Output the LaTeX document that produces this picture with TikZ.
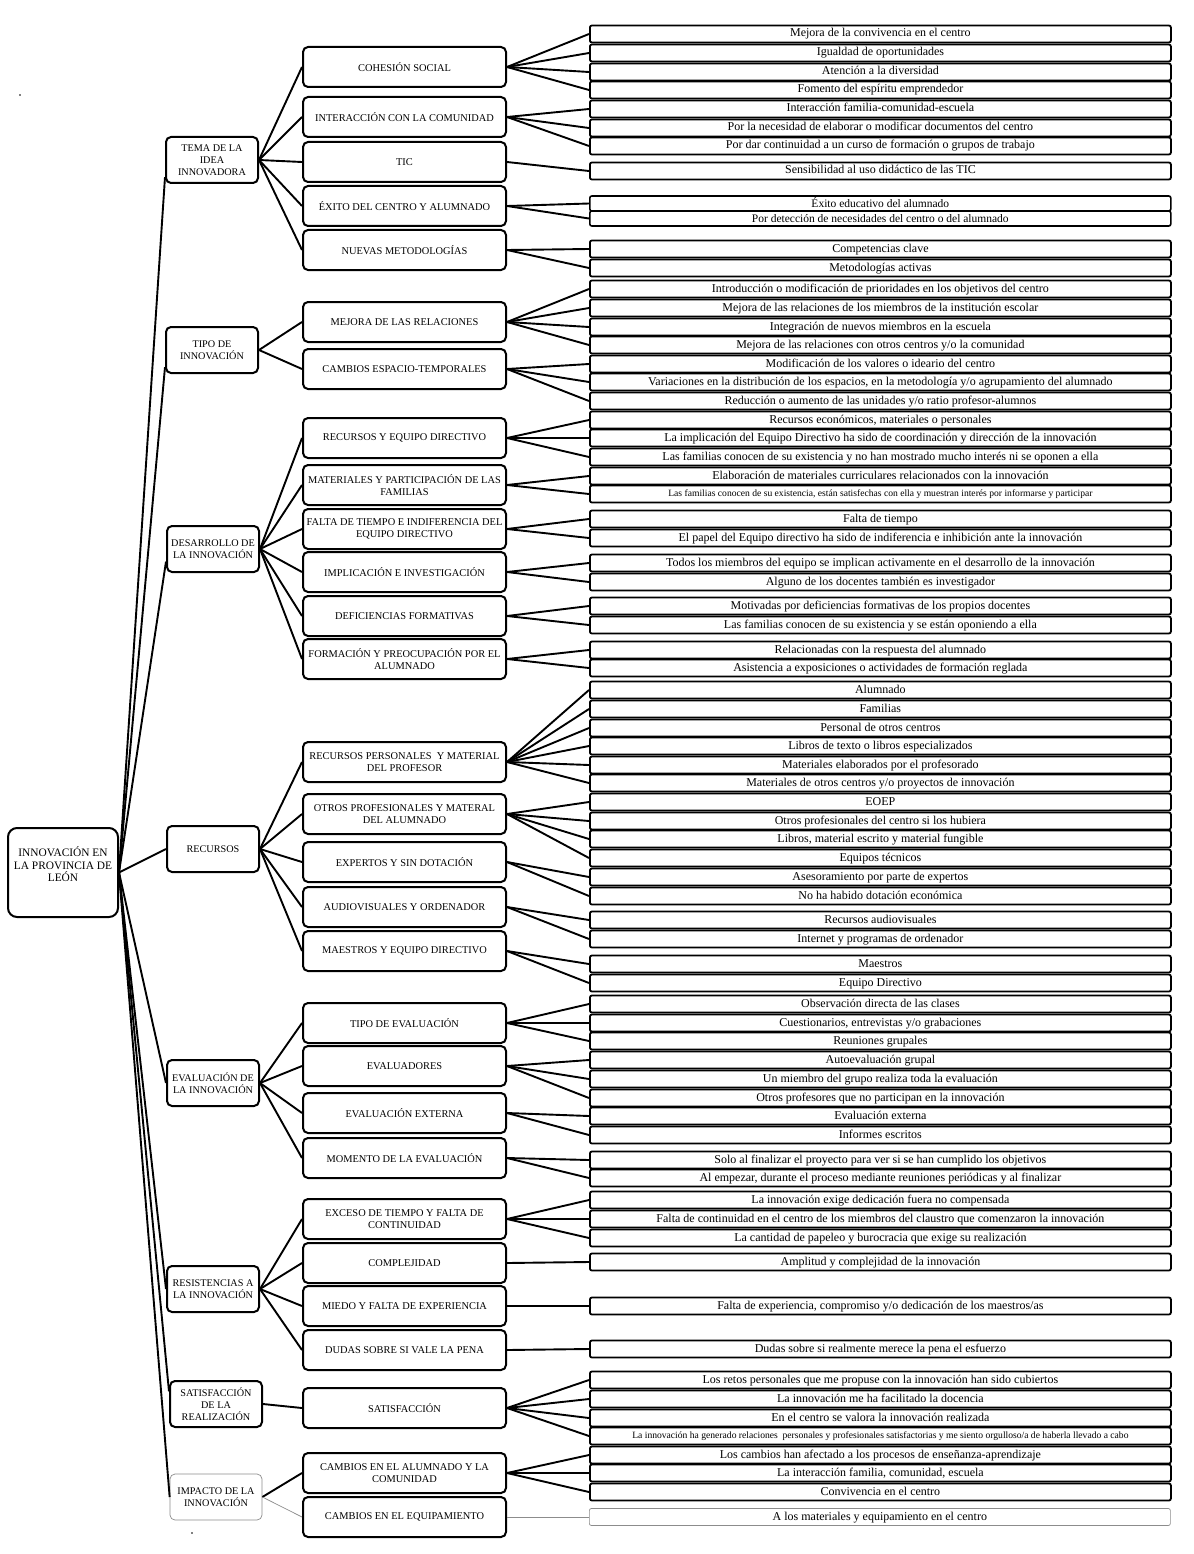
\documentclass[tikz,border=0pt]{standalone}
\usepackage{fontspec}
\setmainfont{Liberation Serif}
\begin{document}
\begin{tikzpicture}[x=1pt,y=-1pt,
  conn/.style={line width=1.9pt},
  thinconn/.style={line width=0.7pt,draw=black!45},
  rootbox/.style={draw,line width=2pt,rounded corners=9pt,minimum width=110pt,minimum height=89pt,inner sep=0pt},
  roottext/.style={align=center,font=\fontsize{11.4}{12.6}\selectfont,inner sep=0pt},
  lonebox/.style={draw,line width=2pt,rounded corners=5pt,minimum width=92pt,minimum height=46pt,align=center,font=\fontsize{10.2}{11.8}\selectfont,inner sep=1pt},
  ltwobox/.style={draw,line width=2pt,rounded corners=5pt,minimum width=203pt,minimum height=40pt,align=center,font=\fontsize{10.4}{12}\selectfont,inner sep=1pt},
  leafbox/.style={draw,line width=1.8pt,rounded corners=2pt,minimum width=581pt,minimum height=17pt,inner sep=0pt,anchor=west,font=\fontsize{12}{13}\selectfont,text height=8.5pt,text depth=2.5pt},
  smallleaf/.style={leafbox,font=\fontsize{9.6}{10.5}\selectfont,text height=7pt,text depth=2pt},
  shortleaf/.style={leafbox,line width=1.6pt,minimum height=15pt,font=\fontsize{11.5}{12.5}\selectfont,text height=9.5pt,text depth=1.5pt},
  greyleaf/.style={leafbox,line width=0.7pt,draw=black!45}
]
\useasboundingbox (0,0) rectangle (1193,1554);
\fill[white] (0,0) rectangle (1193,1554);

% root
\node[rootbox] (r) at (63,872.5) {};
\node[roottext] (rt) at (63,864.5) {INNOVACIÓN EN\\LA PROVINCIA DE\\LEÓN};

% level 1
\node[lonebox] (a1) at (212,160) {TEMA DE LA\\IDEA\\INNOVADORA};
\node[lonebox] (a2) at (212,350) {TIPO DE\\INNOVACIÓN};
\node[lonebox] (a3) at (213,549) {DESARROLLO DE\\LA INNOVACIÓN};
\node[lonebox] (a4) at (213,849) {RECURSOS};
\node[lonebox] (a5) at (213,1083) {EVALUACIÓN DE\\LA INNOVACIÓN};
\node[lonebox] (a6) at (213,1289) {RESISTENCIAS A\\LA INNOVACIÓN};
\node[lonebox] (a7) at (216,1404) {SATISFACCIÓN\\DE LA\\REALIZACIÓN};
\node[lonebox,line width=0.7pt,draw=black!45] (a8) at (216,1497) {IMPACTO DE LA\\INNOVACIÓN};

% level 2
\node[ltwobox] (b1) at (404.5,67) {COHESIÓN SOCIAL};
\node[ltwobox] (b2) at (404.5,117) {INTERACCIÓN CON LA COMUNIDAD};
\node[ltwobox] (b3) at (404.5,162) {TIC};
\node[ltwobox] (b4) at (404.5,206) {ÉXITO DEL CENTRO Y ALUMNADO};
\node[ltwobox] (b5) at (404.5,250) {NUEVAS METODOLOGÍAS};
\node[ltwobox] (b6) at (404.5,322) {MEJORA DE LAS RELACIONES};
\node[ltwobox] (b7) at (404.5,369) {CAMBIOS ESPACIO-TEMPORALES};
\node[ltwobox] (b8) at (404.5,438) {RECURSOS Y EQUIPO DIRECTIVO};
\node[ltwobox] (b9) at (404.5,485) {MATERIALES Y PARTICIPACIÓN DE LAS\\FAMILIAS};
\node[ltwobox] (b10) at (404.5,529) {FALTA DE TIEMPO E INDIFERENCIA DEL\\EQUIPO DIRECTIVO};
\node[ltwobox] (b11) at (404.5,572) {IMPLICACIÓN E INVESTIGACIÓN};
\node[ltwobox] (b12) at (404.5,616) {DEFICIENCIAS FORMATIVAS};
\node[ltwobox] (b13) at (404.5,659) {FORMACIÓN Y PREOCUPACIÓN POR EL\\ALUMNADO};
\node[ltwobox] (b14) at (404.5,762) {RECURSOS PERSONALES\ \ Y MATERIAL\\DEL PROFESOR};
\node[ltwobox] (b15) at (404.5,814) {OTROS PROFESIONALES Y MATERAL\\DEL ALUMNADO};
\node[ltwobox] (b16) at (404.5,862) {EXPERTOS Y SIN DOTACIÓN};
\node[ltwobox] (b17) at (404.5,907) {AUDIOVISUALES Y ORDENADOR};
\node[ltwobox] (b18) at (404.5,951) {MAESTROS Y EQUIPO DIRECTIVO};
\node[ltwobox] (b19) at (404.5,1023) {TIPO DE EVALUACIÓN};
\node[ltwobox] (b20) at (404.5,1066) {EVALUADORES};
\node[ltwobox] (b21) at (404.5,1113) {EVALUACIÓN EXTERNA};
\node[ltwobox] (b22) at (404.5,1158) {MOMENTO DE LA EVALUACIÓN};
\node[ltwobox] (b23) at (404.5,1219) {EXCESO DE TIEMPO Y FALTA DE\\CONTINUIDAD};
\node[ltwobox] (b24) at (404.5,1263) {COMPLEJIDAD};
\node[ltwobox] (b25) at (404.5,1306) {MIEDO Y FALTA DE EXPERIENCIA};
\node[ltwobox] (b26) at (404.5,1350) {DUDAS SOBRE SI VALE LA PENA};
\node[ltwobox] (b27) at (404.5,1408) {SATISFACCIÓN};
\node[ltwobox] (b28) at (404.5,1473) {CAMBIOS EN EL ALUMNADO Y LA\\COMUNIDAD};
\node[ltwobox] (b29) at (404.5,1517) {CAMBIOS EN EL EQUIPAMIENTO};

% leaves
\node[leafbox] (l1) at (589,34) {Mejora de la convivencia en el centro};
\node[leafbox] (l2) at (589,53) {Igualdad de oportunidades};
\node[leafbox] (l3) at (589,72) {Atención a la diversidad};
\node[leafbox] (l4) at (589,90) {Fomento del espíritu emprendedor};
\node[leafbox] (l5) at (589,109) {Interacción familia-comunidad-escuela};
\node[leafbox] (l6) at (589,128) {Por la necesidad de elaborar o modificar documentos del centro};
\node[leafbox] (l7) at (589,146) {Por dar continuidad a un curso de formación o grupos de trabajo};
\node[leafbox] (l8) at (589,171) {Sensibilidad al uso didáctico de las TIC};
\node[shortleaf] (l9) at (589,203.5) {Éxito educativo del alumnado};
\node[shortleaf] (l10) at (589,218.5) {Por detección de necesidades del centro o del alumnado};
\node[leafbox] (l11) at (589,249) {Competencias clave};
\node[leafbox] (l12) at (589,268) {Metodologías activas};
\node[leafbox] (l13) at (589,289) {Introducción o modificación de prioridades en los objetivos del centro};
\node[leafbox] (l14) at (589,308) {Mejora de las relaciones de los miembros de la institución escolar};
\node[leafbox] (l15) at (589,327) {Integración de nuevos miembros en la escuela};
\node[leafbox] (l16) at (589,345) {Mejora de las relaciones con otros centros y/o la comunidad};
\node[leafbox] (l17) at (589,364) {Modificación de los valores o ideario del centro};
\node[leafbox] (l18) at (589,382) {Variaciones en la distribución de los espacios, en la metodología y/o agrupamiento del alumnado};
\node[leafbox] (l19) at (589,401) {Reducción o aumento de las unidades y/o ratio profesor-alumnos};
\node[leafbox] (l20) at (589,420) {Recursos económicos, materiales o personales};
\node[leafbox] (l21) at (589,438) {La implicación del Equipo Directivo ha sido de coordinación y dirección de la innovación};
\node[leafbox] (l22) at (589,457) {Las familias conocen de su existencia y no han mostrado mucho interés ni se oponen a ella};
\node[leafbox] (l23) at (589,476) {Elaboración de materiales curriculares relacionados con la innovación};
\node[smallleaf] (l24) at (589,494) {Las familias conocen de su existencia, están satisfechas con ella y muestran interés por informarse y participar};
\node[leafbox] (l25) at (589,519) {Falta de tiempo};
\node[leafbox] (l26) at (589,538) {El papel del Equipo directivo ha sido de indiferencia e inhibición ante la innovación};
\node[leafbox] (l27) at (589,563) {Todos los miembros del equipo se implican activamente en el desarrollo de la innovación};
\node[leafbox] (l28) at (589,582) {Alguno de los docentes también es investigador};
\node[leafbox] (l29) at (589,606) {Motivadas por deficiencias formativas de los propios docentes};
\node[leafbox] (l30) at (589,625) {Las familias conocen de su existencia y se están oponiendo a ella};
\node[leafbox] (l31) at (589,650) {Relacionadas con la respuesta del alumnado};
\node[leafbox] (l32) at (589,668) {Asistencia a exposiciones o actividades de formación reglada};
\node[leafbox] (l33) at (589,690) {Alumnado};
\node[leafbox] (l34) at (589,709) {Familias};
\node[leafbox] (l35) at (589,728) {Personal de otros centros};
\node[leafbox] (l36) at (589,746) {Libros de texto o libros especializados};
\node[leafbox] (l37) at (589,765) {Materiales elaborados por el profesorado};
\node[leafbox] (l38) at (589,783) {Materiales de otros centros y/o proyectos de innovación};
\node[leafbox] (l39) at (589,802) {EOEP};
\node[leafbox] (l40) at (589,821) {Otros profesionales del centro si los hubiera};
\node[leafbox] (l41) at (589,839) {Libros, material escrito y material fungible};
\node[leafbox] (l42) at (589,858) {Equipos técnicos};
\node[leafbox] (l43) at (589,877) {Asesoramiento por parte de expertos};
\node[leafbox] (l44) at (589,896) {No ha habido dotación económica};
\node[leafbox] (l45) at (589,920) {Recursos audiovisuales};
\node[leafbox] (l46) at (589,939) {Internet y programas de ordenador};
\node[leafbox] (l47) at (589,964) {Maestros};
\node[leafbox] (l48) at (589,983) {Equipo Directivo};
\node[leafbox] (l49) at (589,1004) {Observación directa de las clases};
\node[leafbox] (l50) at (589,1023) {Cuestionarios, entrevistas y/o grabaciones};
\node[leafbox] (l51) at (589,1041) {Reuniones grupales};
\node[leafbox] (l52) at (589,1060) {Autoevaluación grupal};
\node[leafbox] (l53) at (589,1079) {Un miembro del grupo realiza toda la evaluación};
\node[leafbox] (l54) at (589,1098) {Otros profesores que no participan en la innovación};
\node[leafbox] (l55) at (589,1116) {Evaluación externa};
\node[leafbox] (l56) at (589,1135) {Informes escritos};
\node[leafbox] (l57) at (589,1160) {Solo al finalizar el proyecto para ver si se han cumplido los objetivos};
\node[leafbox] (l58) at (589,1178) {Al empezar, durante el proceso mediante reuniones periódicas y al finalizar};
\node[leafbox] (l59) at (589,1200) {La innovación exige dedicación fuera no compensada};
\node[leafbox] (l60) at (589,1219) {Falta de continuidad en el centro de los miembros del claustro que comenzaron la innovación};
\node[leafbox] (l61) at (589,1238) {La cantidad de papeleo y burocracia que exige su realización};
\node[leafbox] (l62) at (589,1262) {Amplitud y complejidad de la innovación};
\node[leafbox] (l63) at (589,1306) {Falta de experiencia, compromiso y/o dedicación de los maestros/as};
\node[leafbox] (l64) at (589,1349) {Dudas sobre si realmente merece la pena el esfuerzo};
\node[leafbox] (l65) at (589,1380) {Los retos personales que me propuse con la innovación han sido cubiertos};
\node[leafbox] (l66) at (589,1399) {La innovación me ha facilitado la docencia};
\node[leafbox] (l67) at (589,1418) {En el centro se valora la innovación realizada};
\node[smallleaf] (l68) at (589,1436) {La innovación ha generado relaciones\ \ personales y profesionales satisfactorias y me siento orgulloso/a de haberla llevado a cabo};
\node[leafbox] (l69) at (589,1455) {Los cambios han afectado a los procesos de enseñanza-aprendizaje};
\node[leafbox] (l70) at (589,1473) {La interacción familia, comunidad, escuela};
\node[leafbox] (l71) at (589,1492) {Convivencia en el centro};
\node[greyleaf] (l72) at (589,1517) {A los materiales y equipamiento en el centro};

% root -> level 1
\draw[conn] (r.east) -- (a1.200);
\draw[conn] (r.east) -- (a2.200);
\draw[conn] (r.east) -- (a3.195);
\draw[conn] (r.east) -- (a4.west);
\draw[conn] (r.east) -- (a5.west);
\draw[conn] (r.east) -- (a6.west);
\draw[conn] (r.east) -- (a7.165);
\draw[conn] (r.east) -- (a8.west);

% level 1 -> level 2
\foreach \a/\f/\t in {1/1/5,2/6/7,3/8/13,4/14/18,5/19/22,6/23/26,7/27/27,8/28/28}
  \foreach \b in {\f,...,\t} \draw[conn] (a\a.east) -- (b\b.west);
\draw[thinconn] (a8.east) -- (b29.west);

% level 2 -> leaves
\foreach \b/\f/\t in {1/1/4,2/5/7,3/8/8,4/9/10,5/11/12,6/13/16,7/17/19,8/20/22,9/23/24,10/25/26,11/27/28,12/29/30,13/31/32,14/33/38,15/39/42,16/43/44,17/45/46,18/47/48,19/49/51,20/52/54,21/55/56,22/57/58,23/59/61,24/62/62,25/63/63,26/64/64,27/65/68,28/69/71}
  \foreach \l in {\f,...,\t} \draw[conn] (b\b.east) -- (l\l.west);
\draw[thinconn] (b29.east) -- (l72.west);

% stray dots
\fill (20,95) circle (0.9pt);
\fill (192,1533) circle (0.9pt);
\end{tikzpicture}
\end{document}
